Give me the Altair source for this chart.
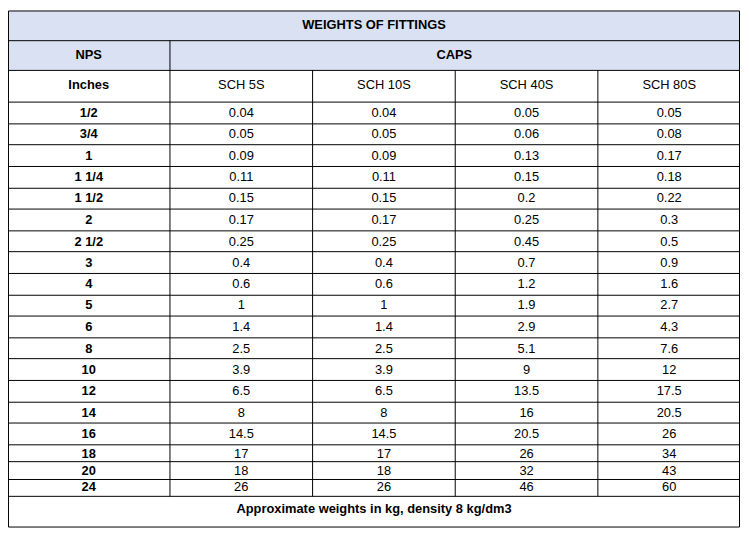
import altair as alt
import pandas as pd

# ---------------- data ----------------
TITLE = "WEIGHTS OF FITTINGS"
GROUP_LEFT = "NPS"
GROUP_RIGHT = "CAPS"
UNIT_LABEL = "Inches"
SCHEDULES = ["SCH 5S", "SCH 10S", "SCH 40S", "SCH 80S"]
NPS = ["1/2", "3/4", "1", "1 1/4", "1 1/2", "2", "2 1/2", "3", "4", "5",
       "6", "8", "10", "12", "14", "16", "18", "20", "24"]
SCH_5S = [0.04, 0.05, 0.09, 0.11, 0.15, 0.17, 0.25, 0.4, 0.6, 1,
          1.4, 2.5, 3.9, 6.5, 8, 14.5, 17, 18, 26]
SCH_10S = [0.04, 0.05, 0.09, 0.11, 0.15, 0.17, 0.25, 0.4, 0.6, 1,
           1.4, 2.5, 3.9, 6.5, 8, 14.5, 17, 18, 26]
SCH_40S = [0.05, 0.06, 0.13, 0.15, 0.2, 0.25, 0.45, 0.7, 1.2, 1.9,
           2.9, 5.1, 9, 13.5, 16, 20.5, 26, 32, 46]
SCH_80S = [0.05, 0.08, 0.17, 0.18, 0.22, 0.3, 0.5, 0.9, 1.6, 2.7,
           4.3, 7.6, 12, 17.5, 20.5, 26, 34, 43, 60]
FOOTNOTE = "Approximate weights in kg, density 8 kg/dm3"

# ---------------- layout (reference pixel frame) ----------------
W, H = 740, 523
COL_EDGES = [1, 165.5, 311.5, 457, 602.5, 747]
HEADER_EDGES = [2, 33, 64, 96.5]
TALL_ROW = 22.2
SHORT_ROW = 17.8
N_TALL = 16
FOOT_BOTTOM = 537
HEADER_FILL = "#D9E1F2"
LINE_COLOR = "#000000"
FONT = "Liberation Sans"
FSIZE = 13

row_edges = list(HEADER_EDGES)
y = HEADER_EDGES[-1]
for i in range(len(NPS)):
    y += TALL_ROW if i < N_TALL else SHORT_ROW
    row_edges.append(y)
row_edges.append(FOOT_BOTTOM)


def X(v):
    return round((v - 1) * 738 / 746) + 0.5


def Y(v):
    return round((v - 2) * 521 / 535) + 0.5


def mid(a, b):
    return (a + b) / 2


# fills
fills = pd.DataFrame([{"x": X(COL_EDGES[0]), "x2": X(COL_EDGES[-1]),
                       "y": Y(HEADER_EDGES[0]), "y2": Y(HEADER_EDGES[2])}])

# lines
lines = []
for e in row_edges:
    lines.append({"x": X(COL_EDGES[0]), "x2": X(COL_EDGES[-1]), "y": Y(e), "y2": Y(e)})
for c in (COL_EDGES[0], COL_EDGES[-1]):
    lines.append({"x": X(c), "x2": X(c), "y": Y(row_edges[0]), "y2": Y(row_edges[-1])})
lines.append({"x": X(COL_EDGES[1]), "x2": X(COL_EDGES[1]),
              "y": Y(HEADER_EDGES[1]), "y2": Y(row_edges[-2])})
for c in COL_EDGES[2:-1]:
    lines.append({"x": X(c), "x2": X(c), "y": Y(HEADER_EDGES[2]), "y2": Y(row_edges[-2])})
lines = pd.DataFrame(lines)

# texts
bold, normal = [], []
full_mid = X(mid(COL_EDGES[0], COL_EDGES[-1]))
bold.append({"x": full_mid, "y": Y(mid(row_edges[0], row_edges[1])) - 1, "t": TITLE})
bold.append({"x": X(mid(COL_EDGES[0], COL_EDGES[1])), "y": Y(mid(row_edges[1], row_edges[2])) - 1, "t": GROUP_LEFT})
bold.append({"x": X(mid(COL_EDGES[1], COL_EDGES[-1])), "y": Y(mid(row_edges[1], row_edges[2])) - 1, "t": GROUP_RIGHT})
bold.append({"x": X(mid(COL_EDGES[0], COL_EDGES[1])), "y": Y(mid(row_edges[2], row_edges[3])) - 1, "t": UNIT_LABEL})
for j, s in enumerate(SCHEDULES):
    normal.append({"x": X(mid(COL_EDGES[j + 1], COL_EDGES[j + 2])),
                   "y": Y(mid(row_edges[2], row_edges[3])) - 1, "t": s})
series = [SCH_5S, SCH_10S, SCH_40S, SCH_80S]
for i, n in enumerate(NPS):
    yc = Y(mid(row_edges[3 + i], row_edges[4 + i]))
    bold.append({"x": X(mid(COL_EDGES[0], COL_EDGES[1])), "y": yc, "t": n})
    for j, s in enumerate(series):
        normal.append({"x": X(mid(COL_EDGES[j + 1], COL_EDGES[j + 2])), "y": yc, "t": str(s[i])})
bold.append({"x": full_mid, "y": Y(mid(row_edges[-2], row_edges[-1])) - 2, "t": FOOTNOTE})
bold = pd.DataFrame(bold)
normal = pd.DataFrame(normal)

xs = alt.Scale(domain=[0, W], nice=False, zero=False)
ys = alt.Scale(domain=[H, 0], nice=False, zero=False)

fill_layer = alt.Chart(fills).mark_rect(color=HEADER_FILL).encode(
    x=alt.X("x:Q", scale=xs, axis=None), x2="x2:Q",
    y=alt.Y("y:Q", scale=ys, axis=None), y2="y2:Q")

line_layer = alt.Chart(lines).mark_rule(color=LINE_COLOR, strokeWidth=1).encode(
    x=alt.X("x:Q", scale=xs, axis=None), x2="x2:Q",
    y=alt.Y("y:Q", scale=ys, axis=None), y2="y2:Q")

bold_layer = alt.Chart(bold).mark_text(font=FONT, fontSize=FSIZE, fontWeight="bold",
                                      color="#000000", align="center", baseline="middle").encode(
    x=alt.X("x:Q", scale=xs, axis=None), y=alt.Y("y:Q", scale=ys, axis=None), text="t:N")

normal_layer = alt.Chart(normal).mark_text(font=FONT, fontSize=FSIZE,
                                          color="#000000", align="center", baseline="middle").encode(
    x=alt.X("x:Q", scale=xs, axis=None), y=alt.Y("y:Q", scale=ys, axis=None), text="t:N")

chart = alt.layer(fill_layer, line_layer, bold_layer, normal_layer).properties(
    width=W, height=H, padding=0, background="white"
).configure_view(strokeWidth=0)

chart.save("out.html", embed_options={"renderer": "svg", "actions": False})
